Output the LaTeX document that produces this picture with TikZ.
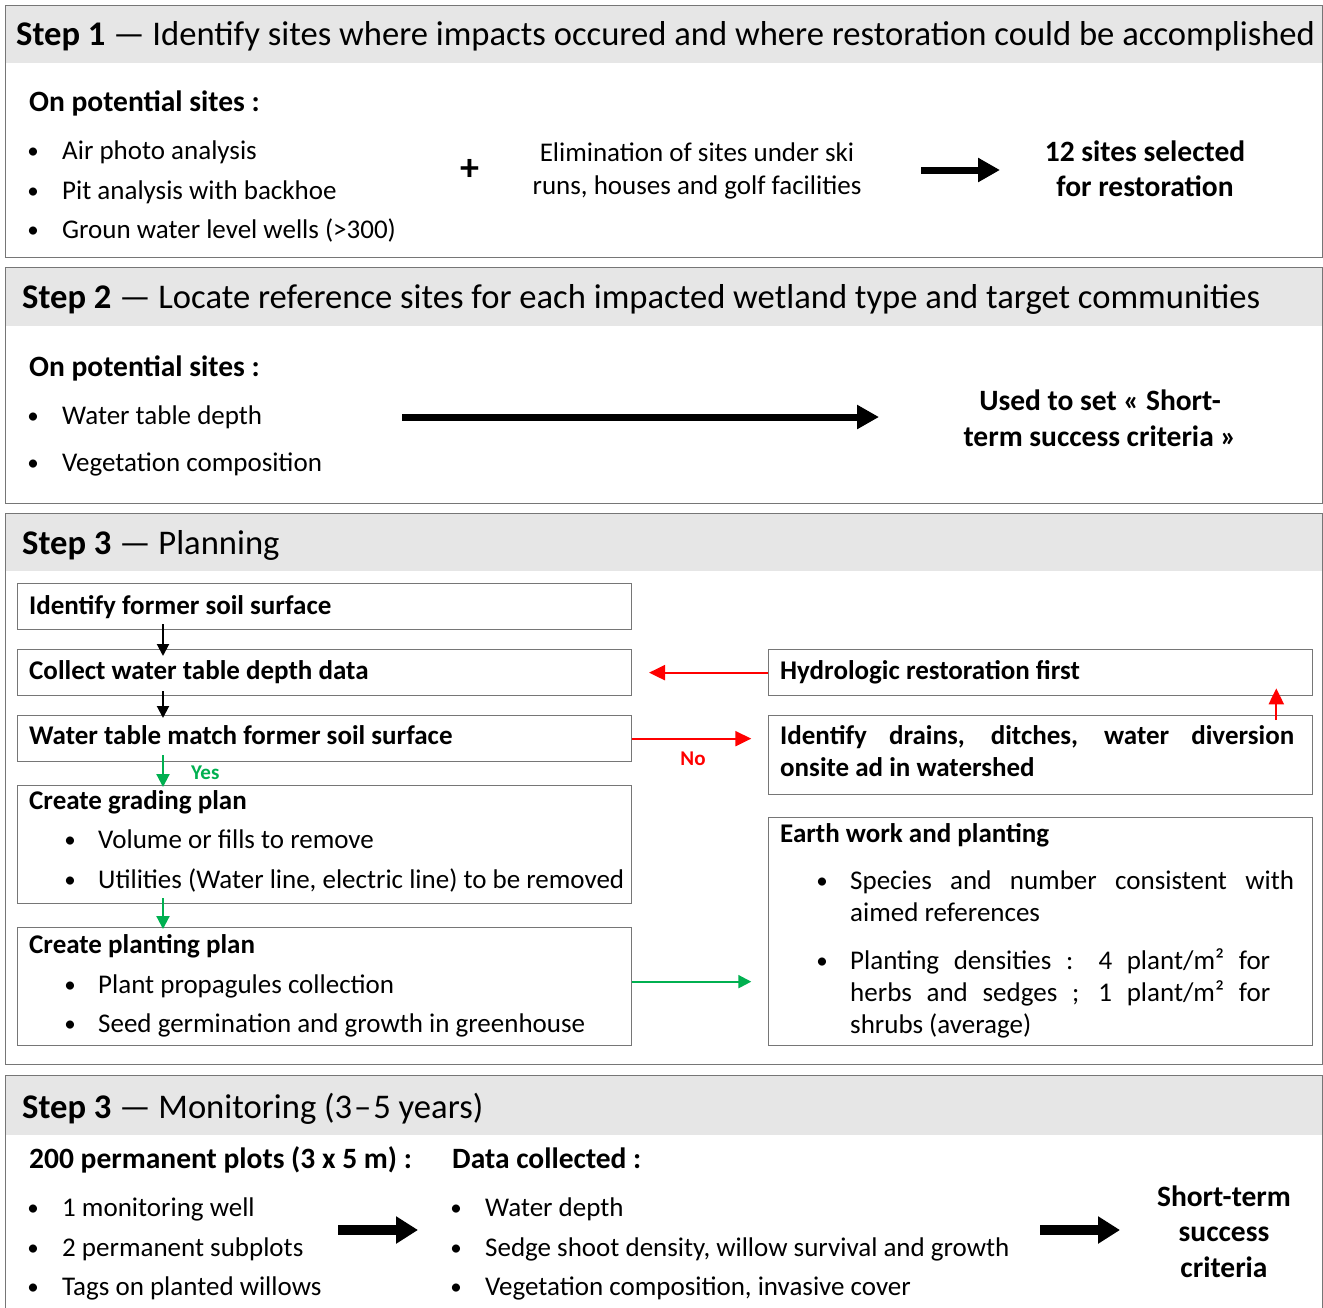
\documentclass[tikz,border=0pt]{standalone}
\usepackage{fontspec}
\setmainfont{Carlito}
\usetikzlibrary{arrows.meta,calc}
\definecolor{frame}{HTML}{767676}
\definecolor{hdr}{HTML}{E6E6E6}
\definecolor{okgreen}{HTML}{00B050}
\definecolor{nored}{HTML}{FF0000}
\newcommand{\mybody}{\fontsize{27}{32}\selectfont}
\newcommand{\mybig}{\fontsize{29.5}{35}\selectfont\bfseries}
\newcommand{\mytitle}{\fontsize{34.6}{40}\selectfont}
\newcommand{\mylab}{\fontsize{21}{24}\selectfont\bfseries}
\newcommand{\mybul}{\fontsize{23}{28}\selectfont}
\begin{document}
\begin{tikzpicture}[x=1pt,y=-1pt,
  txt/.style={anchor=base west,inner sep=0pt,font=\mybody},
  txtb/.style={anchor=base west,inner sep=0pt,font=\mybody\bfseries},
  bigb/.style={anchor=base west,inner sep=0pt,font=\mybig},
  txtc/.style={anchor=base,inner sep=0pt,font=\mybody},
  bigcb/.style={anchor=base,inner sep=0pt,font=\mybig},
  bul/.style={anchor=base,inner sep=0pt,font=\mybul},
  ttl/.style={anchor=base west,inner sep=0pt,font=\mytitle},
  hdrband/.style={fill=hdr,draw=none,anchor=north west,inner sep=0pt,minimum width=1317},
  frm/.style={draw=frame,line width=1.3,anchor=north west,inner sep=0pt,minimum width=1317},
  pbox/.style={draw=frame,line width=1.3,anchor=north west,inner sep=0pt},
  bigarr/.style={line width=7,-{Triangle[length=22pt,width=23pt]}},
  hugearr/.style={line width=10,-{Triangle[length=22pt,width=26pt]}},
  blkarr/.style={line width=2,-{Triangle[length=12pt,width=12pt]}},
  grnarr/.style={okgreen,line width=2.2,-{Triangle[length=13pt,width=13pt]}},
  redarr/.style={nored,line width=2.2,-{Triangle[length=16pt,width=15pt]}},
]
\useasboundingbox (0,0) rectangle (1323,1307);
\clip (0,0) rectangle (1323,1307);
\fill[white] (0,0) rectangle (1323,1307);

% ---------- section frames ----------
\node[hdrband,minimum height=58] (h1) at (5,5) {};
\node[frm,minimum height=252] (s1) at (5,5) {};
\node[hdrband,minimum height=59] (h2) at (5,267) {};
\node[frm,minimum height=236] (s2) at (5,267) {};
\node[hdrband,minimum height=58] (h3) at (5,513) {};
\node[frm,minimum height=551] (s3) at (5,513) {};
\node[hdrband,minimum height=60] (h4) at (5,1075) {};
\node[frm,minimum height=250] (s4) at (5,1075) {};

% ---------- Step 1 ----------
\node[ttl] (t1) at (16,45) {\textbf{Step 1} — Identify sites where impacts occured and where restoration could be accomplished};
\node[bigb] (p1) at (29,111) {On potential sites :};
\node[bul] (b11) at (33,158) {•};
\node[txt] (l11) at (62,159) {Air photo analysis};
\node[bul] (b12) at (33,198) {•};
\node[txt] (l12) at (62,199) {Pit analysis with backhoe};
\node[bul] (b13) at (33,237) {•};
\node[txt] (l13) at (62,238) {Groun water level wells (>300)};
\node[anchor=base,inner sep=0pt,font=\fontsize{38}{40}\selectfont\bfseries] (plus) at (470,180) {+};
\node[txtc] (e1) at (697,161) {Elimination of sites under ski};
\node[txtc] (e2) at (697,194) {runs, houses and golf facilities};
\node[bigcb] (r1) at (1145,161) {12 sites selected};
\node[bigcb] (r2) at (1145,196) {for restoration};
\coordinate (a1s) at (921,170);
\coordinate (a1e) at (1000,170);
\draw[bigarr] (a1s) -- (a1e);

% ---------- Step 2 ----------
\node[ttl] (t2) at (22,308) {\textbf{Step 2} — Locate reference sites for each impacted wetland type and target communities};
\node[bigb] (p2) at (29,376) {On potential sites :};
\node[bul] (b21) at (33,423) {•};
\node[txt] (l21) at (62,424) {Water table depth};
\node[bul] (b22) at (33,470) {•};
\node[txt] (l22) at (62,471) {Vegetation composition};
\node[bigcb] (u1) at (1100,410) {Used to set « Short-};
\node[bigcb] (u2) at (1100,446) {term success criteria »};
\coordinate (a2s) at (402,417);
\coordinate (a2e) at (879,417);
\draw[bigarr] (a2s) -- (a2e);

% ---------- Step 3 planning ----------
\node[ttl] (t3) at (22,554) {\textbf{Step 3} — Planning};
\node[pbox,minimum width=614,minimum height=46] (A) at (17,583) {};
\node[pbox,minimum width=614,minimum height=46] (B) at (17,649) {};
\node[pbox,minimum width=614,minimum height=46] (C) at (17,715) {};
\node[pbox,minimum width=614,minimum height=118] (D) at (17,785) {};
\node[pbox,minimum width=614,minimum height=118] (E) at (17,927) {};
\node[pbox,minimum width=544,minimum height=46] (F) at (768,649) {};
\node[pbox,minimum width=544,minimum height=79] (G) at (768,715) {};
\node[pbox,minimum width=544,minimum height=228] (H) at (768,817) {};

\node[txtb] (At) at (29,614) {Identify former soil surface};
\node[txtb] (Bt) at (29,679) {Collect water table depth data};
\node[txtb] (Ct) at (29,744) {Water table match former soil surface};
\node[txtb] (Dt) at (29,809) {Create grading plan};
\node[bul] (d1b) at (70,847) {•};
\node[txt] (d1) at (98,848) {Volume or fills to remove};
\node[bul] (d2b) at (70,887) {•};
\node[txt] (d2) at (98,888) {Utilities (Water line, electric line) to be removed};
\node[txtb] (Et) at (29,953) {Create planting plan};
\node[bul] (e1b) at (70,992) {•};
\node[txt] (e1l) at (98,993) {Plant propagules collection};
\node[bul] (e2b) at (70,1031) {•};
\node[txt] (e2l) at (98,1032) {Seed germination and growth in greenhouse};

\node[txtb] (Ft) at (780,679) {Hydrologic restoration first};
\node[txtb] (Gt1) at (780,744) {\makebox[514pt][s]{Identify drains, ditches, water diversion}};
\node[txtb] (Gt2) at (780,776) {onsite ad in watershed};
\node[txtb] (Ht) at (780,842) {Earth work and planting};
\node[bul] (h1b) at (822,888) {•};
\node[txt] (h1a) at (850,889) {\makebox[444pt][s]{Species and number consistent with}};
\node[txt] (h1c) at (850,921) {aimed references};
\node[bul] (h2b) at (822,968) {•};
\node[txt] (h2a) at (850,969) {\makebox[420pt][s]{Planting densities : 4 plant/m² for}};
\node[txt] (h2c) at (850,1001) {\makebox[420pt][s]{herbs and sedges ; 1 plant/m² for}};
\node[txt] (h2d) at (850,1033) {shrubs (average)};

% connectors
\draw[blkarr] ($(A.south west)+(146,-6)$) -- ($(B.north west)+(146,7)$);
\draw[blkarr] ($(B.south west)+(146,-5)$) -- ($(C.north west)+(146,3)$);
\draw[grnarr] ($(C.south west)+(146,-7)$) -- ($(D.north west)+(146,2)$);
\draw[grnarr] ($(D.south west)+(146,-6)$) -- ($(E.north west)+(146,2)$);
\node[anchor=base west,inner sep=0pt,font=\mylab,text=okgreen] (yes) at (191,779) {Yes};
\draw[redarr] (F.west) -- ++(-119,0);
\draw[redarr] (C.east) -- ++(119,0);
\node[anchor=base,inner sep=0pt,font=\mylab,text=nored] (no) at (693,765) {No};
\draw[redarr] ($(G.north east)+(-37,5)$) -- ($(F.south east)+(-37,-8)$);
\draw[grnarr] ($(E.east)+(0,-5)$) -- ++(119,0);

% ---------- Step 3 monitoring ----------
\node[ttl] (t4) at (22,1118) {\textbf{Step 3} — Monitoring (3\kern2pt–\kern2pt5 years)};
\node[bigb] (m0) at (29,1168) {200 permanent plots (3 x 5 m) :};
\node[bigb] (n0) at (452,1168) {Data collected :};
\node[bul] (m1b) at (33,1215) {•};
\node[txt] (m1) at (62,1216) {1 monitoring well};
\node[bul] (m2b) at (33,1255) {•};
\node[txt] (m2) at (62,1256) {2 permanent subplots};
\node[bul] (m3b) at (33,1294) {•};
\node[txt] (m3) at (62,1295) {Tags on planted willows};
\node[bul] (n1b) at (456,1215) {•};
\node[txt] (n1) at (485,1216) {Water depth};
\node[bul] (n2b) at (456,1255) {•};
\node[txt] (n2) at (485,1256) {Sedge shoot density, willow survival and growth};
\node[bul] (n3b) at (456,1294) {•};
\node[txt] (n3) at (485,1295) {Vegetation composition, invasive cover};
\node[bigcb] (c1) at (1224,1206) {Short-term};
\node[bigcb] (c2) at (1224,1241) {success};
\node[bigcb] (c3) at (1224,1277) {criteria};
\coordinate (a3s) at (338,1230);
\coordinate (a3e) at (418,1230);
\draw[hugearr] (a3s) -- (a3e);
\coordinate (a4s) at (1040,1230);
\coordinate (a4e) at (1120,1230);
\draw[hugearr] (a4s) -- (a4e);
\end{tikzpicture}
\end{document}
